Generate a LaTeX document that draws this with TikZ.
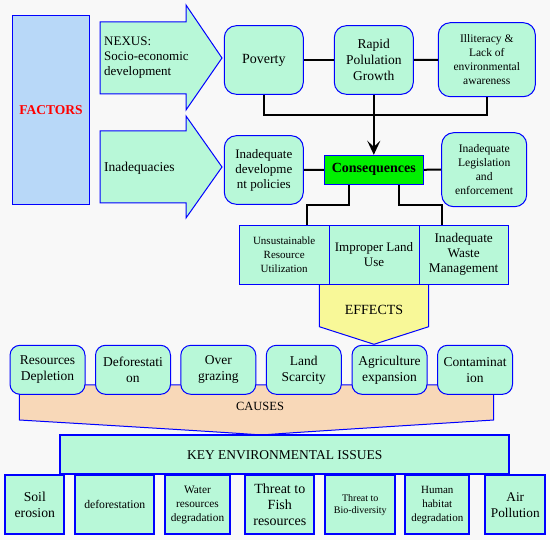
\documentclass[tikz,border=0pt]{standalone}
\usepackage{fontspec}
\setmainfont{Liberation Serif}
\usetikzlibrary{arrows.meta}
\definecolor{bgc}{RGB}{248,248,248}
\definecolor{mint}{RGB}{184,248,216}
\definecolor{lblue}{RGB}{184,216,248}
\definecolor{cgreen}{RGB}{0,240,0}
\definecolor{effy}{RGB}{248,248,152}
\definecolor{peach}{RGB}{248,216,184}
\definecolor{bblue}{RGB}{0,0,255}
\newcommand\fsz[2]{\fontsize{#1}{#2}\selectfont}
\begin{document}
\begin{tikzpicture}[x=1pt,y=-1pt,
  box/.style={draw=bblue, fill=mint, line width=1pt, align=center, inner sep=0pt},
  rbox/.style={box, rounded corners=12pt},
  cbox/.style={box, rounded corners=10pt},
  bbox/.style={box, line width=1.8pt},
  shp/.style={draw=bblue, line width=1pt},
  conn/.style={draw=black, line width=2pt}]
\fill[bgc] (0,0) rectangle (550,540);
\useasboundingbox (0,0) rectangle (550,540);

% FACTORS
\node[box, fill=lblue, minimum width=77.4pt, minimum height=188.7pt,
  font=\fsz{13.5}{16}\bfseries, text=red] (fac) at (51,109.7) {FACTORS};

% factor arrows
\filldraw[shp, fill=mint] (100,22) -- (186,22) -- (186,5) -- (222,58) -- (186,110) -- (186,94) -- (100,94) -- cycle;
\node[anchor=west, align=left, inner sep=0pt, font=\fsz{13}{15}] (nexus) at (104,58) {NEXUS:\\Socio-economic\\development};
\filldraw[shp, fill=mint] (100,131) -- (186,131) -- (186,116) -- (222,167) -- (186,218) -- (186,203) -- (100,203) -- cycle;
\node[anchor=west, inner sep=0pt, font=\fsz{13.5}{16}] (inad) at (104,168) {Inadequacies};

% causes shape and effects shape
\filldraw[shp, fill=peach] (19.3,385) -- (493.7,385) -- (493.7,420)
  .. controls (400,426) and (300,432) .. (261.7,435)
  .. controls (220,432) and (120,426) .. (19.3,420) -- cycle;
\node[font=\fsz{12.5}{15}] (causes) at (260,406) {CAUSES};
\filldraw[shp, fill=effy] (319.3,284.3) -- (428.7,284.3) -- (428.7,326.7) -- (374,344.3) -- (319.3,326.7) -- cycle;
\node[font=\fsz{14}{16}] (effects) at (374,310) {EFFECTS};

% top row
\node[rbox, minimum width=79pt, minimum height=68.6pt, font=\fsz{14}{16}] (pov) at (263.8,60) {Poverty};
\node[rbox, minimum width=79pt, minimum height=68.6pt, font=\fsz{13.5}{16}] (rap) at (373.8,60) {Rapid\\Polulation\\Growth};
\node[rbox, minimum width=97pt, minimum height=74pt, font=\fsz{11.5}{14}] (ill) at (486.8,59.7) {Illiteracy \&\\Lack of\\environmental\\awareness};

% second row
\node[rbox, minimum width=79pt, minimum height=68.6pt, font=\fsz{13}{15}] (pol) at (263.8,170) {Inadequate\\developme\\nt policies};
\node[box, fill=cgreen, minimum width=99pt, minimum height=29pt, font=\fsz{14}{16}\bfseries] (cons) at (373.8,169.8) {Consequences};
\node[rbox, minimum width=85pt, minimum height=74pt, font=\fsz{11.6}{14}] (leg) at (484.2,169.7) {Inadequate\\Legislation\\and\\enforcement};

% third row
\node[box, minimum width=89.7pt, minimum height=59pt, font=\fsz{11}{14}] (uns) at (284.2,254.8) {Unsustainable\\Resource\\Utilization};
\node[box, minimum width=90pt, minimum height=59pt, font=\fsz{13}{15}] (land) at (374,254.8) {Improper Land\\Use};
\node[box, minimum width=89.3pt, minimum height=59pt, font=\fsz{13.3}{15}] (waste) at (463.7,254.8) {Inadequate\\Waste\\Management};

% causes row
\foreach \n/\x/\t in {c1/47.5/{Resources\\Depletion}, c2/133/{Deforestati\\on}, c3/218.3/{Over\\grazing},
  c4/303.8/{Land\\Scarcity}, c5/389.5/{Agriculture\\expansion}, c6/475/{Contaminat\\ion}}
  \node[cbox, minimum width=75pt, minimum height=49pt, font=\fsz{13.5}{16}] (\n) at (\x,369.8) {\t};

% key issues
\node[bbox, minimum width=449pt, minimum height=38.7pt, font=\fsz{13.5}{16}] (key) at (284.8,454.7) {KEY ENVIRONMENTAL ISSUES};
\node[bbox, minimum width=59pt, minimum height=59pt, font=\fsz{13.7}{16}] (k1) at (34.8,504.8) {Soil\\erosion};
\node[bbox, minimum width=79pt, minimum height=59pt, font=\fsz{11.7}{14}] (k2) at (114.8,504.8) {deforestation};
\node[bbox, minimum width=64.4pt, minimum height=59pt, font=\fsz{11.3}{14}] (k3) at (197.5,504.8) {Water\\resources\\degradation};
\node[bbox, minimum width=69pt, minimum height=59pt, font=\fsz{14}{16}] (k4) at (279.8,504.8) {Threat to\\Fish\\resources};
\node[bbox, minimum width=70pt, minimum height=59pt, font=\fsz{10}{12}] (k5) at (360.3,504.8) {Threat to\\Bio-diversity};
\node[bbox, minimum width=64pt, minimum height=59pt, font=\fsz{11}{14}] (k6) at (437.3,504.8) {Human\\habitat\\degradation};
\node[bbox, minimum width=60pt, minimum height=59pt, font=\fsz{13.3}{16}] (k7) at (515.3,504.8) {Air\\Pollution};

% connectors
\draw[conn] (pov) -- (rap);
\draw[conn] (rap) -- (ill);
\draw[conn] (pov.south) -- (pov.south |- 0,115) -- (ill.south |- 0,115) -- (ill.south);
\draw[conn, -{Stealth[length=14pt,width=13pt,inset=6pt]}] (rap.south) -- (rap.south |- cons.north);
\draw[conn] (pol) -- (cons);
\draw[conn] (cons) -- (leg);
\draw[conn] ([xshift=-25pt]cons.south) -- ++(0,20.4) -| ([xshift=23pt]uns.north);
\draw[conn] ([xshift=25pt]cons.south) -- ++(0,20.4) -| ([xshift=-22pt]waste.north);
\end{tikzpicture}
\end{document}
